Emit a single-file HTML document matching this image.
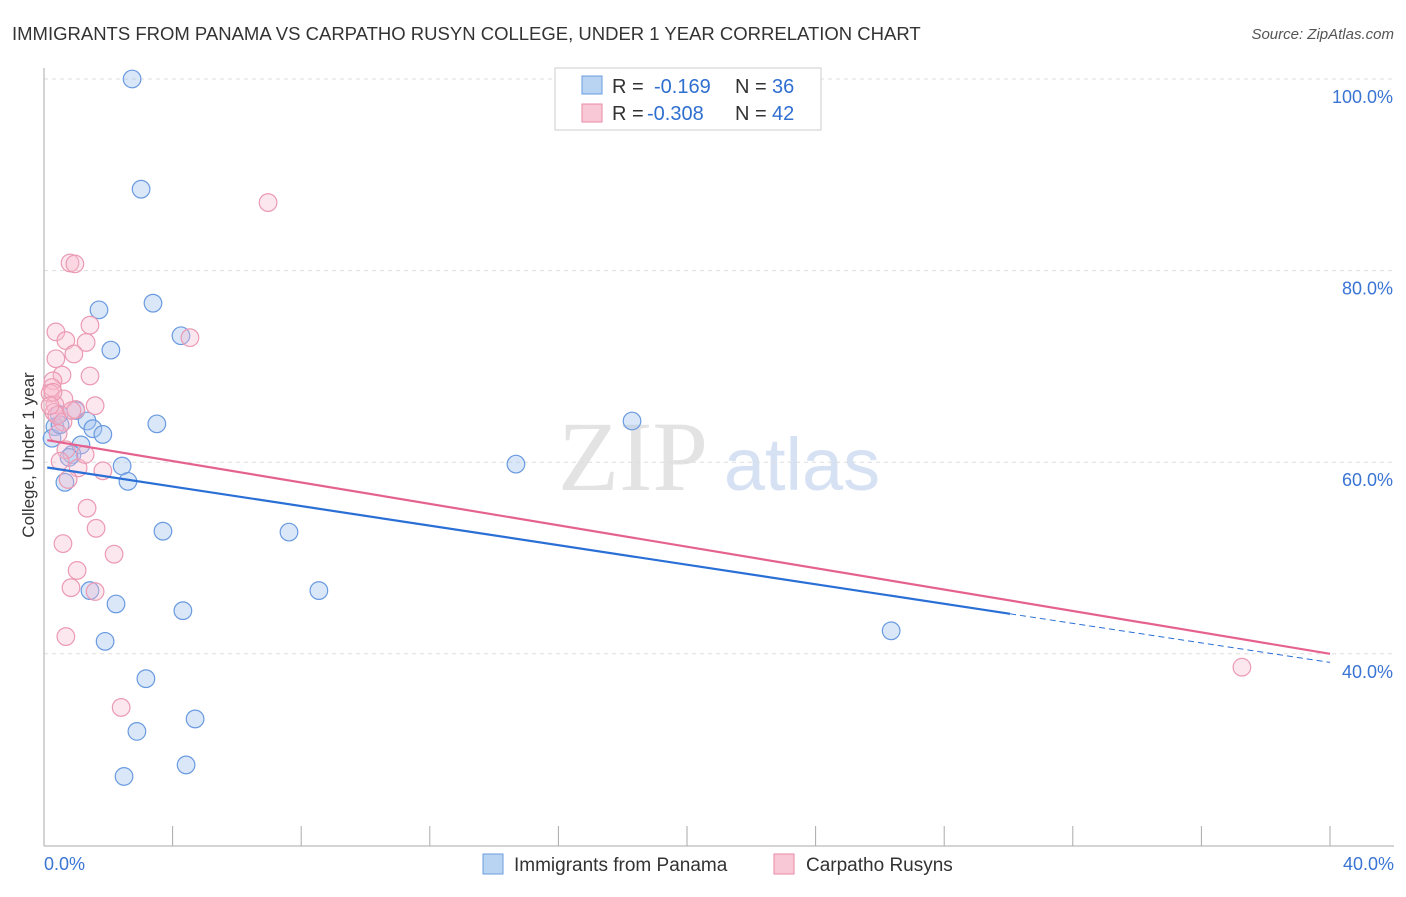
<!DOCTYPE html>
<html><head><meta charset="utf-8"><style>
body{margin:0;background:#fff;font-family:"Liberation Sans",sans-serif}
</style></head><body>
<svg width="1406" height="892" xmlns="http://www.w3.org/2000/svg" id="chart">
<text x="12" y="40" font-size="18.5" fill="#333">IMMIGRANTS FROM PANAMA VS CARPATHO RUSYN COLLEGE, UNDER 1 YEAR CORRELATION CHART</text>
<text x="1394" y="39" font-size="15" fill="#555" font-style="italic" text-anchor="end">Source: ZipAtlas.com</text>
<text x="633" y="490" font-size="100" fill="#e3e3e3" font-family="Liberation Serif" text-anchor="middle">ZIP</text>
<text x="802" y="490" font-size="74" fill="#d6e2f3" text-anchor="middle">atlas</text>
<g id="grid"></g><g id="axes"></g><g id="pts"></g><g id="lines"></g>
<text x="34" y="455" font-size="17" fill="#333" text-anchor="middle" transform="rotate(-90 34 455)">College, Under 1 year</text>
<g font-size="20" fill="#333">
<rect x="555" y="68" width="266" height="62" fill="#fff" stroke="#ccc"/>
<rect x="582" y="76" width="20" height="18" fill="#b9d3f3" stroke="#6a9de0"/>
<text x="612" y="93">R =</text><text x="654" y="93" fill="#2f6fd0">-0.169</text>
<text x="735" y="93">N =</text><text x="772" y="93" fill="#2f6fd0">36</text>
<rect x="582" y="104" width="20" height="18" fill="#f9c8d6" stroke="#e88aa6"/>
<text x="612" y="120">R =</text><text x="647" y="120" fill="#2f6fd0">-0.308</text>
<text x="735" y="120">N =</text><text x="772" y="120" fill="#2f6fd0">42</text>
</g>
<g>
<rect x="483" y="854" width="20" height="20" fill="#b9d3f3" stroke="#6a9de0"/>
<text x="514" y="871" font-size="19" fill="#333">Immigrants from Panama</text>
<rect x="774" y="854" width="20" height="20" fill="#f9c8d6" stroke="#e88aa6"/>
<text x="806" y="871" font-size="19" fill="#333">Carpatho Rusyns</text>
</g>
</svg>
<script>
const yTicks=[100,80,60,40];
const yTickLabels=["100.0%","80.0%","60.0%","40.0%"];
const xTickLabels=["0.0%","40.0%"];
const blueX=[2.74,3.02,3.39,1.71,2.08,4.26,3.51,18.29,0.99,1.34,0.47,0.34,1.52,1.83,0.25,1.15,0.87,0.78,2.43,14.68,2.61,0.65,3.70,7.62,8.55,1.43,2.24,4.32,26.35,1.90,3.17,4.70,2.89,4.42,2.49,0.50];
const blueY=[100,88.5,76.6,75.9,71.7,73.2,64.0,64.3,65.4,64.3,65.0,63.7,63.5,62.9,62.5,61.8,60.8,60.5,59.6,59.8,58.0,57.9,52.8,52.7,46.6,46.6,45.2,44.5,42.4,41.3,37.4,33.2,31.9,28.4,27.2,63.9];
const pinkX=[6.97,0.81,0.96,0.37,0.68,1.43,1.31,0.37,0.93,0.56,1.43,0.28,0.25,0.19,0.62,1.59,0.34,0.31,0.40,0.99,0.59,4.54,0.44,0.68,1.83,1.06,0.75,1.34,1.62,0.59,2.18,1.03,0.84,1.59,0.68,2.40,37.26,0.28,0.19,0.50,1.28,0.87];
const pinkY=[87.1,80.8,80.7,73.6,72.7,74.3,72.5,70.8,71.3,69.1,69.0,68.5,67.8,67.2,66.6,65.9,66.0,65.2,64.9,65.5,64.2,73.0,63.0,61.3,59.1,59.4,58.2,55.2,53.1,51.5,50.4,48.7,46.9,46.5,41.8,34.4,38.6,67.3,65.9,60.1,60.8,65.4];
const blueLine=[59.5,39.1], blueSolidEnd=30.05;
const pinkLine=[62.3,40.0];
const NS="http://www.w3.org/2000/svg";
const X=v=>44+v*32.15, Y=v=>79+(100-v)*9.58;
function mk(p,t,a){const e=document.createElementNS(NS,t);for(const k in a)e.setAttribute(k,a[k]);document.getElementById(p).appendChild(e);return e;}
yTicks.forEach((t,i)=>{
 const g=mk('grid','line',{x1:44,x2:1394,y1:Y(t),y2:Y(t),stroke:'#ddd','stroke-dasharray':'4,4'});
 
 
 const l=mk('grid','text',{x:1393,y:Y(t)+24,'font-size':18,fill:'#3a74d4','text-anchor':'end'});l.textContent=yTickLabels[i];
 
 
});
const ax=mk('axes','line',{x1:44,x2:44,y1:68,y2:846,stroke:'#aaa'});


const bx=mk('axes','line',{x1:44,x2:1394,y1:846,y2:846,stroke:'#aaa'});


for(let i=1;i<=10;i++){const t=mk('axes','line',{x1:X(i*4),x2:X(i*4),y1:826,y2:846,stroke:'#aaa'});
 
 }
[[0,'start'],[40,'end']].forEach((d,i)=>{const t=mk('axes','text',{x:i?1394:44,y:870,'font-size':18,fill:'#3a74d4','text-anchor':d[1]});t.textContent=xTickLabels[i];
 
 });
blueX.forEach((v,i)=>{const c=mk('pts','circle',{cx:X(v),cy:Y(blueY[i]),r:8.8,fill:'rgba(160,195,240,0.4)',stroke:'#6a9ae0','stroke-width':1.2});
 
 });
pinkX.forEach((v,i)=>{const c=mk('pts','circle',{cx:X(v),cy:Y(pinkY[i]),r:8.8,fill:'rgba(248,185,205,0.35)',stroke:'#eb9ab3','stroke-width':1.2});
 
 });
const by=x=>blueLine[0]+(blueLine[1]-blueLine[0])*x/40;
const l1=mk('lines','line',{x1:X(0.1),y1:Y(by(0.1)),x2:X(blueSolidEnd),y2:Y(by(blueSolidEnd)),stroke:'#2a6fd6','stroke-width':2.2});


const l2=mk('lines','line',{x1:X(blueSolidEnd),y1:Y(by(blueSolidEnd)),x2:X(40),y2:Y(by(40)),stroke:'#2a6fd6','stroke-width':1,'stroke-dasharray':'6,4'});


const l3=mk('lines','line',{x1:X(0.1),y1:Y(pinkLine[0]),x2:X(40),y2:Y(pinkLine[1]),stroke:'#e5628f','stroke-width':2.2});


</script>
</body></html>
